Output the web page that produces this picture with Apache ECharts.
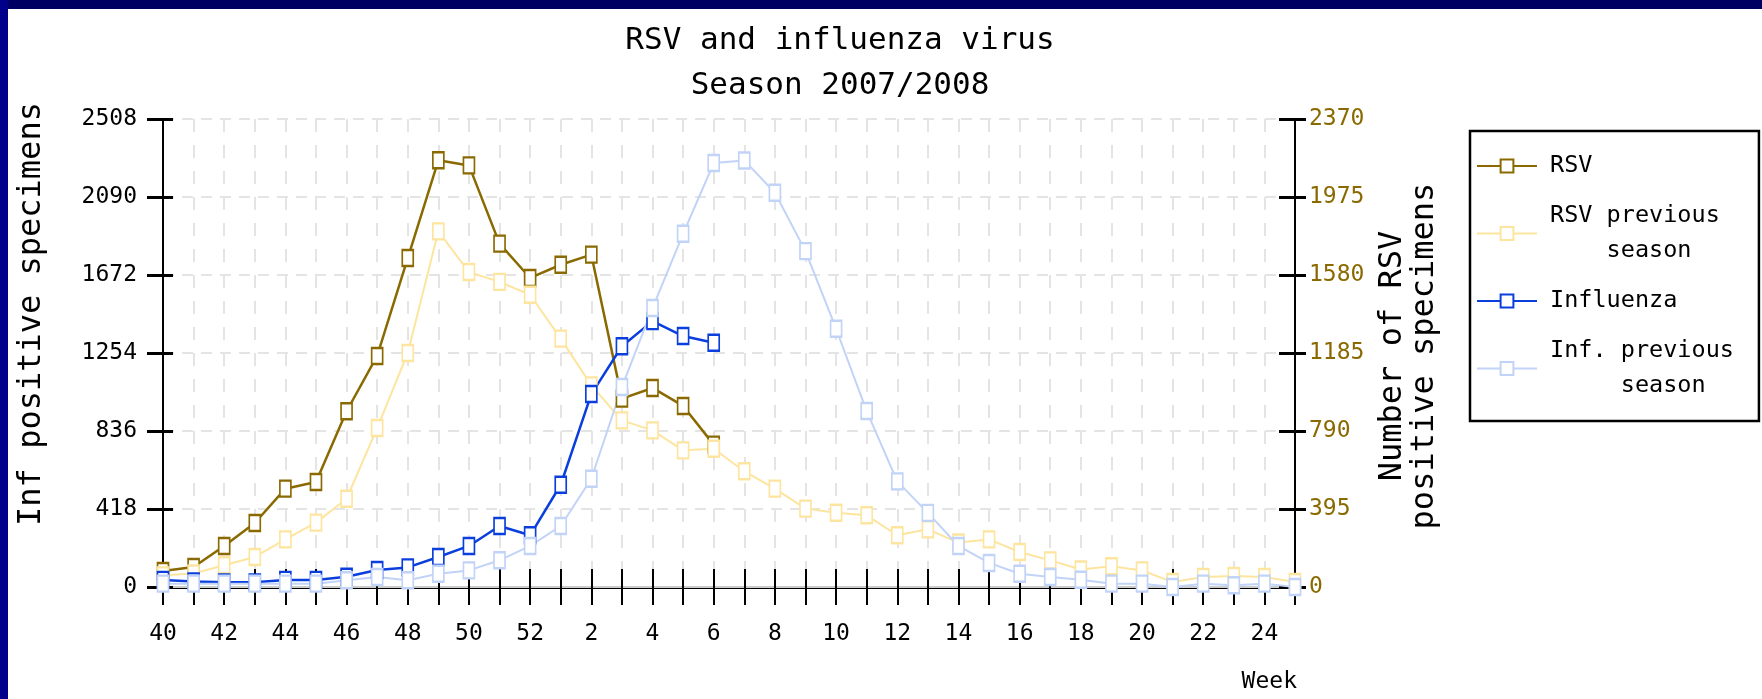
<!DOCTYPE html>
<html lang="en">
  <head>
    <meta charset="UTF-8" />
    <title>RSV and influenza virus</title>
    <script src="https://cdn.jsdelivr.net/npm/echarts@6.0.0/dist/echarts.min.js"></script>
    <style>
      body { margin: 0; background: #fff; }
      #bandTop { position: absolute; left: 0; top: 0; width: 1762px; height: 9px; background: #000062; }
      #bandLeft { position: absolute; left: 0; top: 0; width: 8px; height: 699px; background: #00008a; }
      #main { position: absolute; left: 0; top: 0; width: 1762px; height: 699px; }
    </style>
  </head>
  <body>
    <div id="bandTop"></div>
    <div id="bandLeft"></div>
    <div id="main"></div>
    <script type="text/javascript">
      // weeks 40..52 of 2007, then 1..25 of 2008
      const weeks = ["40", "41", "42", "43", "44", "45", "46", "47", "48", "49", "50", "51", "52",
        "1", "2", "3", "4", "5", "6", "7", "8", "9", "10", "11", "12", "13", "14", "15", "16",
        "17", "18", "19", "20", "21", "22", "23", "24", "25"];

      // right axis (RSV)
      const rsv = [81, 101, 208, 324, 498, 532, 890, 1170, 1666, 2161, 2135, 1739, 1565,
        1632, 1683, 954, 1008, 917, 721];
      const rsvPrev = [59, 68, 110, 152, 241, 326, 447, 805, 1185, 1801, 1595, 1545, 1480,
        1258, 1021, 844, 793, 692, 700, 586, 498, 397, 376, 363, 262, 292, 225, 241,
        177, 135, 89, 105, 84, 25, 51, 56, 51, 25];

      // left axis (influenza)
      const influenza = [38, 30, 25, 25, 38, 38, 55, 91, 105, 161, 220, 327, 277,
        548, 1034, 1290, 1425, 1345, 1309];
      const infPrev = [18, 18, 18, 18, 18, 18, 36, 54, 36, 71, 89, 143, 220,
        327, 580, 1072, 1495, 1893, 2272, 2286, 2113, 1800, 1384, 943, 566, 397, 220, 129,
        71, 54, 39, 18, 18, 0, 18, 9, 18, 0];

      const leftMax = 2508, leftStep = 418;
      const rightMax = 2370, rightStep = 395;

      const seriesNames = ["RSV", "RSV previous season", "Influenza", "Inf. previous season"];
      const legendText = {
        "RSV": "RSV",
        "RSV previous season": "RSV previous\n    season",
        "Influenza": "Influenza",
        "Inf. previous season": "Inf. previous\n     season",
      };

      const MONO = '"DejaVu Sans Mono", monospace';
      const GOLD = "#8a6a00";
      const colors = [GOLD, "#fde5a0", "#0b3fdd", "#c2d3f8"];
      const widths = [2.5, 2, 2.5, 2];

      const gridBox = { left: 163, right: 467, top: 119, bottom: 112 };
      const plainNumber = (v) => String(v);

      function makeSeries(i, data, yIdx) {
        return {
          name: seriesNames[i],
          type: "line",
          xAxisIndex: 0,
          yAxisIndex: yIdx,
          data: data,
          symbol: "emptyRect",
          symbolSize: [11, 16],
          lineStyle: { color: colors[i], width: widths[i] },
          itemStyle: { color: colors[i], borderWidth: 2.5 },
        };
      }

      let myChart = echarts.init(document.getElementById("main"));
      let options = {
        animation: false,
        title: {
          text: "RSV and influenza virus\nSeason 2007/2008",
          left: 835,
          top: 13,
          textAlign: "center",
          textStyle: { fontFamily: MONO, fontSize: 31, fontWeight: "normal", color: "#000", lineHeight: 45 },
        },
        legend: {
          orient: "vertical",
          left: 1470,
          top: 131,
          padding: [17.5, 25, 17.5, 6],
          itemGap: 15,
          itemWidth: 60,
          itemHeight: 16,
          backgroundColor: "#fff",
          borderColor: "#000",
          borderWidth: 2.5,
          data: seriesNames,
          formatter: (name) => legendText[name],
          textStyle: { fontFamily: MONO, fontSize: 23.5, color: "#000", lineHeight: 35, padding: [0, 0, 0, 8] },
        },
        grid: [Object.assign({}, gridBox), Object.assign({}, gridBox)],
        xAxis: [
          {
            type: "category",
            gridIndex: 0,
            position: "bottom",
            data: weeks,
            boundaryGap: false,
            axisLine: { lineStyle: { color: "#000", width: 3 } },
            axisTick: { interval: 0, length: 18, lineStyle: { color: "#000", width: 2 } },
            axisLabel: { interval: 1, margin: 36, color: "#000", fontFamily: MONO, fontSize: 23 },
            splitLine: { show: true, interval: 0, lineStyle: { color: "#e4e4e4", width: 2, type: [13, 13] } },
          },
          {
            type: "category",
            gridIndex: 0,
            position: "top",
            data: weeks,
            boundaryGap: false,
            axisLine: { lineStyle: { color: "#cccccc", width: 2 } },
            axisTick: { show: false },
            axisLabel: { show: false },
            splitLine: { show: false },
          },
          {
            // inner half of the crossing x ticks
            type: "category",
            gridIndex: 1,
            position: "bottom",
            data: weeks,
            boundaryGap: false,
            axisLine: { show: false },
            axisTick: { inside: true, interval: 0, length: 18, lineStyle: { color: "#000", width: 2 } },
            axisLabel: { show: false },
            splitLine: { show: false },
          },
        ],
        yAxis: [
          {
            type: "value",
            gridIndex: 0,
            position: "left",
            min: 0,
            max: leftMax,
            interval: leftStep,
            axisLine: { show: true, lineStyle: { color: "#000", width: 2 } },
            axisTick: { show: true, length: 16, lineStyle: { color: "#000", width: 3 } },
            axisLabel: { margin: 26, color: "#000", fontFamily: MONO, fontSize: 23, formatter: plainNumber },
            splitLine: { show: true, lineStyle: { color: "#e4e4e4", width: 2, type: [11, 8] } },
          },
          {
            type: "value",
            gridIndex: 0,
            position: "right",
            min: 0,
            max: rightMax,
            interval: rightStep,
            axisLine: { show: true, lineStyle: { color: "#000", width: 2 } },
            axisTick: { show: true, length: 11, lineStyle: { color: "#000", width: 3 } },
            axisLabel: { margin: 14, color: GOLD, fontFamily: MONO, fontSize: 23, formatter: plainNumber },
            splitLine: { show: false },
          },
          {
            type: "value",
            gridIndex: 1,
            position: "left",
            min: 0,
            max: leftMax,
            interval: leftStep,
            axisLine: { show: false },
            axisTick: { show: true, inside: true, length: 10, lineStyle: { color: "#000", width: 3 } },
            axisLabel: { show: false },
            splitLine: { show: false },
          },
          {
            type: "value",
            gridIndex: 1,
            position: "right",
            min: 0,
            max: rightMax,
            interval: rightStep,
            axisLine: { show: false },
            axisTick: { show: true, inside: true, length: 16, lineStyle: { color: "#000", width: 3 } },
            axisLabel: { show: false },
            splitLine: { show: false },
          },
        ],
        graphic: [
          {
            type: "text",
            x: 32,
            y: 314,
            rotation: Math.PI / 2,
            style: { text: "Inf positive specimens", font: "32px " + MONO, fill: "#000", align: "center", verticalAlign: "middle" },
          },
          {
            type: "text",
            x: 1409,
            y: 356,
            rotation: Math.PI / 2,
            style: {
              text: "Number of RSV\npositive specimens",
              font: "32px " + MONO,
              lineHeight: 32,
              fill: "#000",
              align: "center",
              verticalAlign: "middle",
            },
          },
          {
            type: "text",
            x: 1297,
            y: 682,
            style: { text: "Week", font: "23px " + MONO, fill: "#000", align: "right", verticalAlign: "middle" },
          },
        ],
        series: [
          makeSeries(0, rsv, 1),
          makeSeries(1, rsvPrev, 1),
          makeSeries(2, influenza, 0),
          makeSeries(3, infPrev, 0),
        ],
      };
      myChart.setOption(options);
    </script>
  </body>
</html>
